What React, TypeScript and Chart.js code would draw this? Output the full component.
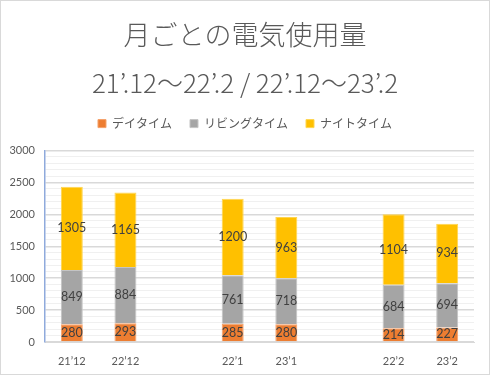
import React, { useEffect, useRef } from "react";
import { Chart, registerables, layouts } from "chart.js";

Chart.register(...registerables);

const categories = ["21’12", "22’12", "", "22’1", "23’1", "", "22’2", "23’2"];
const dayValues = [280, 293, null, 285, 280, null, 214, 227];
const livingValues = [849, 884, null, 761, 718, null, 684, 694];
const nightValues = [1305, 1165, null, 1200, 963, null, 1104, 934];
const seriesNames = ["デイタイム", "リビングタイム", "ナイトタイム"];
const titleText = "月ごとの電気使用量";
const subtitleText = "21’.12～22’.2 / 22’.12～23’.2";

const JP = "'Noto Sans CJK JP', 'Noto Sans', sans-serif";
const NUM = "Lato, 'Noto Sans', sans-serif";

const dataLabelPlugin = {
  id: "dataLabels",
  afterDatasetsDraw(chart: any) {
    const ctx = chart.ctx;
    ctx.save();
    ctx.font = `12.5px ${NUM}`;
    ctx.fillStyle = "#404040";
    ctx.textAlign = "center";
    ctx.textBaseline = "middle";
    chart.data.datasets.forEach((ds: any, di: number) => {
      const meta = chart.getDatasetMeta(di);
      meta.data.forEach((el: any, i: number) => {
        const v = ds.data[i];
        if (v === null || v === undefined) return;
        const p = el.getCenterPoint();
        ctx.fillText(String(v), p.x, p.y);
      });
    });
    ctx.restore();
  },
};

const bgPlugin = {
  id: "bg",
  beforeDraw(chart: any) {
    const ctx = chart.ctx;
    ctx.save();
    ctx.fillStyle = "#ffffff";
    ctx.fillRect(0, 0, chart.width, chart.height);
    ctx.restore();
  },
};

function makeSpacer(position: string, size: number, fullSize: boolean, weight: number) {
  const horiz = position === "top" || position === "bottom";
  const box: any = {
    position,
    weight,
    fullSize,
    options: {},
    top: 0,
    left: 0,
    right: 0,
    bottom: 0,
    width: horiz ? 0 : size,
    height: horiz ? size : 0,
    isHorizontal() {
      return horiz;
    },
    update(maxWidth: number, maxHeight: number) {
      if (horiz) {
        box.width = maxWidth;
        box.height = size;
      } else {
        box.width = size;
        box.height = maxHeight;
      }
    },
    draw() {},
  };
  return box;
}

const spacerPlugin = {
  id: "spacers",
  beforeInit(chart: any) {
    layouts.addBox(chart, makeSpacer("top", 11, true, 10));
    layouts.addBox(chart, makeSpacer("right", 16, false, 10));
  },
};

export default function App() {
  const ref = useRef<HTMLCanvasElement>(null);
  useEffect(() => {
    document.body.style.margin = "0";
    const chart = new Chart(ref.current as HTMLCanvasElement, {
      type: "bar",
      data: {
        labels: categories,
        datasets: [
          { label: seriesNames[0], data: dayValues, backgroundColor: "#ed7d31", borderColor: "#f4a16a", borderWidth: 1 },
          { label: seriesNames[1], data: livingValues, backgroundColor: "#a5a5a5", borderColor: "#c4c4c4", borderWidth: 1 },
          { label: seriesNames[2], data: nightValues, backgroundColor: "#ffc000", borderColor: "#ffd54f", borderWidth: 1 },
        ] as any,
      },
      options: {
        responsive: false,
        animation: false,
        devicePixelRatio: 1,
        layout: { padding: 0 },
        datasets: { bar: { categoryPercentage: 1, barPercentage: 0.41 } } as any,
        plugins: {
          title: {
            display: true,
            text: titleText,
            color: "#595959",
            font: { family: JP, size: 27, weight: "300" as any, lineHeight: 1.2 },
            padding: { top: 19, bottom: 0 },
          },
          subtitle: {
            display: true,
            text: subtitleText,
            color: "#595959",
            font: { family: JP, size: 26, weight: "300" as any, lineHeight: 1.2 },
            padding: { top: 16, bottom: 1 },
          },
          legend: {
            display: true,
            labels: {
              boxWidth: 8,
              boxHeight: 8,
              padding: 18,
              color: "#595959",
              font: { family: JP, size: 12 },
            },
          },
          tooltip: { enabled: false },
        },
        scales: {
          x: {
            stacked: true,
            grid: { display: false },
            border: { display: true, color: "#d9d9d9", width: 1 },
            ticks: { color: "#595959", font: { family: NUM, size: 11 }, padding: 5 },
            afterFit: (s: any) => { s.height = 33; },
          },
          y: {
            stacked: true,
            min: 0,
            max: 3000,
            border: { display: true, color: "#8faadc", width: 1.5 },
            grid: {
              color: (c: any) => (c.tick && c.tick.value % 500 === 0 ? "#d9d9d9" : "#f0f0f0"),
              lineWidth: (c: any) => (c.tick && c.tick.value % 500 === 0 ? 1.5 : 1),
              drawTicks: false,
            },
            ticks: {
              stepSize: 100,
              autoSkip: false,
              color: "#595959",
              font: { family: NUM, size: 11 },
              padding: 10,
              callback: (v: any) => (Number(v) % 500 === 0 ? String(v) : ""),
            },
            afterFit: (s: any) => { s.width = 45; },
          },
        },
      },
      plugins: [bgPlugin, spacerPlugin, dataLabelPlugin],
    });
    return () => chart.destroy();
  }, []);
  return (
    <div style={{ position: "relative", width: 490, height: 375 }}>
      <canvas ref={ref} width={490} height={375} style={{ display: "block" }} />
      <div
        style={{
          position: "absolute",
          left: 0,
          top: 0,
          width: 490,
          height: 375,
          boxSizing: "border-box",
          border: "1px solid #d9d9d9",
          pointerEvents: "none",
        }}
      />
    </div>
  );
}
